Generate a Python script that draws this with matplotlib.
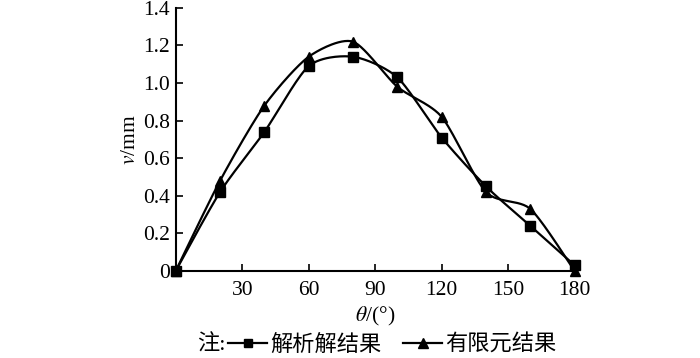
import numpy as np
import matplotlib
matplotlib.use("Agg")
import matplotlib.pyplot as plt
from matplotlib.lines import Line2D

theta = [0, 20, 40, 60, 80, 100, 120, 140, 160, 180]
v_analytic = [0.0, 0.42, 0.74, 1.09, 1.14, 1.03, 0.71, 0.45, 0.24, 0.03]
v_fem = [0.0, 0.48, 0.88, 1.14, 1.22, 0.98, 0.82, 0.42, 0.33, 0.0]
xticks = [30, 60, 90, 120, 150, 180]
yticks = [0, 0.2, 0.4, 0.6, 0.8, 1.0, 1.2, 1.4]
yticklabels = ["0", "0.2", "0.4", "0.6", "0.8", "1.0", "1.2", "1.4"]
label_a = "解析解结果"
label_f = "有限元结果"

plt.rcParams['font.family'] = ['Liberation Serif', 'Noto Sans CJK SC']
plt.rcParams['mathtext.fontset'] = 'stix'


def smooth(x, y, n=30, k=1 / 8):
    # smoothed line (Bezier with Catmull-Rom tangents) through the given points
    x = np.asarray(x, float); y = np.asarray(y, float)
    px = np.concatenate([[x[0]], x, [x[-1]]])
    py = np.concatenate([[y[0]], y, [y[-1]]])
    xs, ys = [], []
    t = np.linspace(0, 1, n)
    for i in range(1, len(px) - 2):
        p0 = np.array([px[i], py[i]]); p3 = np.array([px[i + 1], py[i + 1]])
        p1 = p0 + (np.array([px[i + 1], py[i + 1]]) - np.array([px[i - 1], py[i - 1]])) * k
        p2 = p3 - (np.array([px[i + 2], py[i + 2]]) - np.array([px[i], py[i]])) * k
        b = ((1 - t) ** 3)[:, None] * p0 + (3 * (1 - t) ** 2 * t)[:, None] * p1 + \
            (3 * (1 - t) * t ** 2)[:, None] * p2 + (t ** 3)[:, None] * p3
        xs.append(b[:, 0]); ys.append(b[:, 1])
    return np.concatenate(xs), np.concatenate(ys)


fig = plt.figure(figsize=(7, 3.58), dpi=100)
ax = fig.add_axes([0.251, 0.243, 0.570, 0.735])

for y, m in [(v_analytic, 's'), (v_fem, '^')]:
    sx, sy = smooth(theta, y)
    ax.plot(sx, sy, color='black', lw=1.6, clip_on=False)
    ax.plot(theta, y, linestyle='none', marker=m, color='black', ms=7.5, clip_on=False)

ax.set_xlim(0, 180)
ax.set_ylim(0, 1.4)
ax.set_xticks(xticks)
ax.set_xticklabels([str(t) for t in xticks])
ax.set_yticks(yticks)
ax.set_yticklabels(yticklabels)
ax.tick_params(direction='in', labelsize=15.5, length=5, width=1.2, colors='black')
ax.tick_params(axis='x', pad=7)
ax.tick_params(axis='y', pad=4)
for s in ['top', 'right']:
    ax.spines[s].set_visible(False)
for s in ['left', 'bottom']:
    ax.spines[s].set_linewidth(1.5)

ax.set_ylabel(r"$v$/mm", fontsize=15.5, labelpad=2)
ax.set_xlabel(r"$\theta$/(°)", fontsize=15.5, labelpad=4)

h1 = Line2D([], [], color='black', marker='s', lw=1.6, ms=6)
h2 = Line2D([], [], color='black', marker='^', lw=1.6, ms=6.5)
fig.text(0.281, 0.036, "注:", fontsize=16, va='center', ha='left')
leg = fig.legend([h1, h2], [label_a, label_f], loc='center left', bbox_to_anchor=(0.326, 0.036),
                 ncol=2, frameon=False, fontsize=16, handlelength=1.75, handletextpad=0.12,
                 columnspacing=1.0, borderpad=0, borderaxespad=0)

fig.savefig("out.png", dpi=100)
